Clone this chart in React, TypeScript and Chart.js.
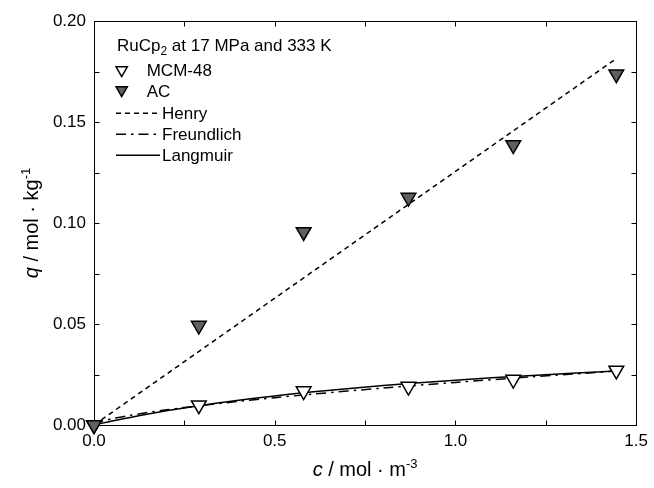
import React, { useEffect, useRef } from "react";
import { Chart, registerables } from "chart.js";

Chart.register(...registerables);

// ---- data ----
const xTickValues = [0, 0.5, 1.0, 1.5];
const xMinorTicks = [0.25, 0.75, 1.25];
const yTickValues = [0, 0.05, 0.1, 0.15, 0.2];
const yMinorTicks = [0.025, 0.075, 0.125, 0.175];

const cExp = [0, 0.29, 0.58, 0.87, 1.16, 1.445];
const qMCM48 = [0, 0.0098, 0.0168, 0.019, 0.0225, 0.027];
const qAC = [0, 0.0492, 0.0956, 0.1126, 0.1386, 0.1737];

const cHenry = [0, 1.445];
const qHenry = [0, 0.1814];

const cFit = [0, 0.02, 0.05, 0.1, 0.2, 0.3, 0.4, 0.5, 0.6, 0.8, 1.0, 1.2, 1.445];
const qFreundlich = [0, 0.0017, 0.0031, 0.0048, 0.0075, 0.0097, 0.0117, 0.0135, 0.0152, 0.0183, 0.0211, 0.0237, 0.0267];
const qLangmuir = [0, 0.0008, 0.00195, 0.00375, 0.007, 0.0098, 0.0122, 0.0144, 0.0163, 0.0195, 0.0222, 0.0244, 0.0267];

const legendTitle = ["RuCp", "2", " at 17 MPa and 333 K"];
const seriesNames = ["MCM-48", "AC", "Henry", "Freundlich", "Langmuir"];

const FONT = '"Liberation Sans", Arial, Helvetica, sans-serif';
const AC_FILL = "#606060";
const DASH_HENRY = [5, 4];
const DASH_FREUND = [10, 5, 2.5, 5];

type Run = { text: string; font: string; dy: number };

function drawRuns(ctx: CanvasRenderingContext2D, runs: Run[], x: number, y: number, align: "left" | "center") {
  let total = 0;
  for (const r of runs) {
    ctx.font = r.font;
    total += ctx.measureText(r.text).width;
  }
  let cx = align === "center" ? x - total / 2 : x;
  ctx.textAlign = "left";
  ctx.textBaseline = "alphabetic";
  for (const r of runs) {
    ctx.font = r.font;
    ctx.fillText(r.text, cx, y + r.dy);
    cx += ctx.measureText(r.text).width;
  }
}

function triangle(ctx: CanvasRenderingContext2D, cx: number, cy: number, r: number, fill: string) {
  const s = Math.sin(Math.PI / 3) * r;
  ctx.beginPath();
  ctx.moveTo(cx, cy + r);
  ctx.lineTo(cx - s, cy - r / 2);
  ctx.lineTo(cx + s, cy - r / 2);
  ctx.closePath();
  ctx.fillStyle = fill;
  ctx.fill();
  ctx.lineWidth = 1.5;
  ctx.strokeStyle = "#000";
  ctx.stroke();
}

const framePlugin = {
  id: "frameTicks",
  beforeDatasetsDraw(chart: any) {
    const { ctx, chartArea: a, scales } = chart;
    const xs = scales.x;
    const ys = scales.y;
    const L = Math.round(a.left) + 0.5;
    const R = Math.round(a.right) + 0.5;
    const T = Math.round(a.top) + 0.5;
    const B = Math.round(a.bottom) + 0.5;
    ctx.save();
    ctx.strokeStyle = "#000";
    ctx.lineWidth = 1;
    ctx.strokeRect(L, T, R - L, B - T);
    const tl = 5;
    ctx.beginPath();
    for (const v of [...xTickValues, ...xMinorTicks]) {
      const px = Math.round(xs.getPixelForValue(v)) + 0.5;
      ctx.moveTo(px, B);
      ctx.lineTo(px, B - tl);
      ctx.moveTo(px, T);
      ctx.lineTo(px, T + tl);
    }
    for (const v of [...yTickValues, ...yMinorTicks]) {
      const py = Math.round(ys.getPixelForValue(v)) + 0.5;
      ctx.moveTo(L, py);
      ctx.lineTo(L + tl, py);
      ctx.moveTo(R, py);
      ctx.lineTo(R - tl, py);
    }
    ctx.stroke();
    ctx.restore();
  },
  afterDraw(chart: any) {
    const { ctx, chartArea: a } = chart;
    ctx.save();
    ctx.fillStyle = "#000";
    const f = `17px ${FONT}`;
    const fs = `12px ${FONT}`;
    const ft = `20px ${FONT}`;
    const fti = `italic 20px ${FONT}`;
    const fts = `13px ${FONT}`;

    // x title
    const xc = (a.left + a.right) / 2;
    drawRuns(
      ctx,
      [
        { text: "c", font: fti, dy: 0 },
        { text: " / mol · m", font: ft, dy: 0 },
        { text: "-3", font: fts, dy: -8 },
      ],
      xc,
      476,
      "center"
    );

    // y title
    ctx.save();
    ctx.translate(38, (a.top + a.bottom) / 2);
    ctx.rotate(-Math.PI / 2);
    drawRuns(
      ctx,
      [
        { text: "q", font: fti, dy: 0 },
        { text: " / mol · kg", font: ft, dy: 0 },
        { text: "-1", font: fts, dy: -8 },
      ],
      0,
      0,
      "center"
    );
    ctx.restore();

    // legend
    ctx.fillStyle = "#000";
    drawRuns(
      ctx,
      [
        { text: legendTitle[0], font: f, dy: 0 },
        { text: legendTitle[1], font: fs, dy: 4 },
        { text: legendTitle[2], font: f, dy: 0 },
      ],
      117,
      50.5,
      "left"
    );
    const markerX = 121.7;
    triangle(ctx, markerX, 70, 6.5, "#fff");
    triangle(ctx, markerX, 90, 6.5, AC_FILL);
    ctx.fillStyle = "#000";
    ctx.font = f;
    ctx.textAlign = "left";
    ctx.textBaseline = "alphabetic";
    ctx.fillText(seriesNames[0], 146.7, 76);
    ctx.fillText(seriesNames[1], 146.7, 97);

    const lines: { y: number; dash: number[]; name: string }[] = [
      { y: 113.3, dash: DASH_HENRY, name: seriesNames[2] },
      { y: 134.3, dash: DASH_FREUND, name: seriesNames[3] },
      { y: 155.3, dash: [], name: seriesNames[4] },
    ];
    for (const ln of lines) {
      ctx.beginPath();
      ctx.setLineDash(ln.dash);
      ctx.lineWidth = 1.5;
      ctx.strokeStyle = "#000";
      ctx.moveTo(116, ln.y);
      ctx.lineTo(160, ln.y);
      ctx.stroke();
      ctx.setLineDash([]);
      ctx.fillStyle = "#000";
      ctx.font = f;
      ctx.fillText(ln.name, 162, ln.y + 6);
    }
    ctx.restore();
  },
};

export default function App() {
  const ref = useRef<HTMLCanvasElement | null>(null);

  useEffect(() => {
    if (!ref.current) return;
    Chart.defaults.font.family = FONT;
    const toPts = (xs: number[], ys: number[]) => xs.map((x, i) => ({ x, y: ys[i] }));
    const chart = new Chart(ref.current, {
      type: "scatter",
      data: {
        datasets: [
          {
            label: seriesNames[1],
            data: toPts(cExp, qAC),
            pointStyle: "triangle",
            rotation: 180,
            pointRadius: 8.5,
            pointBackgroundColor: AC_FILL,
            pointBorderColor: "#000",
            pointBorderWidth: 1.5,
            showLine: false,
            order: 0,
            clip: false,
          } as any,
          {
            label: seriesNames[0],
            data: toPts(cExp, qMCM48),
            pointStyle: "triangle",
            rotation: 180,
            pointRadius: 8.5,
            pointBackgroundColor: "#fff",
            pointBorderColor: "#000",
            pointBorderWidth: 1.5,
            showLine: false,
            order: 1,
            clip: false,
          } as any,
          {
            label: seriesNames[4],
            data: toPts(cFit, qLangmuir),
            showLine: true,
            borderColor: "#000",
            borderWidth: 1.5,
            pointRadius: 0,
            tension: 0.3,
            order: 2,
          } as any,
          {
            label: seriesNames[3],
            data: toPts(cFit, qFreundlich),
            showLine: true,
            borderColor: "#000",
            borderWidth: 1.5,
            borderDash: DASH_FREUND,
            pointRadius: 0,
            tension: 0.3,
            order: 3,
          } as any,
          {
            label: seriesNames[2],
            data: toPts(cHenry, qHenry),
            showLine: true,
            borderColor: "#000",
            borderWidth: 1.5,
            borderDash: DASH_HENRY,
            pointRadius: 0,
            order: 4,
          } as any,
        ],
      },
      options: {
        responsive: false,
        animation: false,
        layout: { padding: { top: 21, right: 11, left: 0, bottom: 0 } },
        plugins: { legend: { display: false }, tooltip: { enabled: false } },
        scales: {
          x: {
            type: "linear",
            min: 0,
            max: 1.5,
            afterBuildTicks: (s: any) => {
              s.ticks = xTickValues.map((v) => ({ value: v }));
            },
            afterFit: (s: any) => {
              s.height = 63;
            },
            ticks: {
              callback: (v: any) => Number(v).toFixed(1),
              padding: 6,
              color: "#000",
              font: { size: 17, family: FONT },
              maxRotation: 0,
              autoSkip: false,
            },
            grid: { display: false, drawTicks: false },
            border: { display: false },
          },
          y: {
            type: "linear",
            min: 0,
            max: 0.2,
            afterBuildTicks: (s: any) => {
              s.ticks = yTickValues.map((v) => ({ value: v }));
            },
            afterFit: (s: any) => {
              s.width = 94;
            },
            ticks: {
              callback: (v: any) => Number(v).toFixed(2),
              padding: 8,
              color: "#000",
              font: { size: 17, family: FONT },
              autoSkip: false,
            },
            grid: { display: false, drawTicks: false },
            border: { display: false },
          },
        },
      } as any,
      plugins: [framePlugin],
    });
    return () => chart.destroy();
  }, []);

  return (
    <div style={{ position: "fixed", left: 0, top: 0, width: 654, height: 488, background: "#fff" }}>
      <canvas ref={ref} width={654} height={488} style={{ display: "block", width: 654, height: 488 }} />
    </div>
  );
}
